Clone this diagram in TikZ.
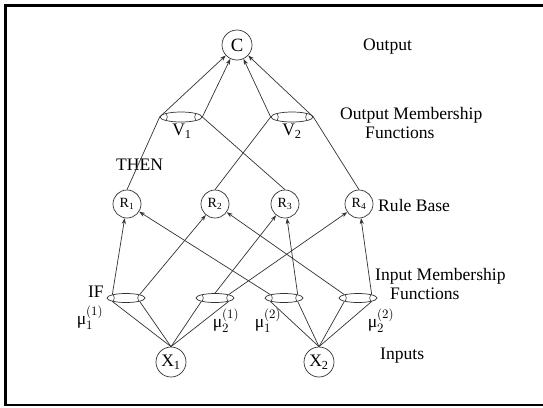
\documentclass[tikz,border=0pt]{standalone}
\usepackage{fontspec}
\setmainfont{Liberation Serif}
\usepackage{amsmath}
\usetikzlibrary{arrows.meta,positioning,calc,shapes.geometric}
\newcommand{\mfn}[2]{μ$_{#1}^{(#2)}$}

\begin{document}
\begin{tikzpicture}[
    x=0.03cm, y=-0.03cm,
    font=\fontsize{15}{17}\selectfont,
    unit/.style={draw=black!80, circle, minimum size=0.9cm, inner sep=0pt, line width=0.6pt},
    rulenode/.style={unit, minimum size=0.84cm, font=\fontsize{12}{14}\selectfont},
    mf/.style={draw=black!80, ellipse, minimum width=1.14cm, minimum height=0.27cm, inner sep=0pt, line width=0.6pt,
      path picture={
        \draw[black!80, line width=0.5pt] ($(path picture bounding box.west)+(0.11cm,0)$) circle[x radius=0.11cm, y radius=0.14cm];
        \draw[black!80, line width=0.5pt] ($(path picture bounding box.east)-(0.11cm,0)$) circle[x radius=0.11cm, y radius=0.14cm];}},
    outmf/.style={mf, minimum width=1.26cm, minimum height=0.3cm},
    lab/.style={align=left, inner sep=0pt},
    con/.style={draw=black!80, line width=0.6pt},
    arr/.style={con, -{Stealth[length=5pt, width=3.5pt]}}
]
  \useasboundingbox (0,0) rectangle (543,407);
  \draw[line width=2.5pt] (543,5.5) -- (5.5,5.5) -- (5.5,405) -- (543,405);

  % output side
  \node[unit, font=\fontsize{16}{18}\selectfont] (C) at (237,45) {C};
  \node[outmf] (V1) at (181,117) {};
  \node[outmf] (V2) at (292,117) {};
  \node (V1lab) at (182,131) {V\textsubscript{1}};
  \node (V2lab) at (292,131) {V\textsubscript{2}};

  % rules
  \node[rulenode] (R1) at (127,204) {R\textsubscript{1}};
  \node[rulenode] (R2) at (215,204) {R\textsubscript{2}};
  \node[rulenode] (R3) at (285,204) {R\textsubscript{3}};
  \node[rulenode] (R4) at (359,204) {R\textsubscript{4}};

  % input side
  \node[mf] (M11) at (126,298) {};
  \node[mf] (M21) at (215,298) {};
  \node[mf] (M12) at (284,298) {};
  \node[mf] (M22) at (358,298) {};
  \node (M11lab) at (90,318) {\mfn{1}{1}};
  \node (M21lab) at (226,321) {\mfn{2}{1}};
  \node (M12lab) at (268,321) {\mfn{1}{2}};
  \node (M22lab) at (381,321) {\mfn{2}{2}};
  \node[unit] (X1) at (171,362) {X\textsubscript{1}};
  \node[unit] (X2) at (319,362) {X\textsubscript{2}};

  % side labels
  \node[lab, anchor=west] (outlab) at (363,47) {Output};
  \node[lab, anchor=west] (omflab) at (340,123) {Output Membership\\\hspace*{0.75cm}Functions};
  \node[lab, anchor=west] (thenlab) at (116,165) {THEN};
  \node[lab, anchor=west] (rblab) at (378,205) {Rule Base};
  \node[lab, anchor=west] (imflab) at (375,284) {Input Membership\\\hspace*{0.45cm}Functions};
  \node[lab, anchor=east] (iflab) at (104,292) {IF};
  \node[lab, anchor=west] (inlab) at (380,356) {Inputs};

  % inputs to membership functions
  \foreach \x/\m in {X1/M11, X1/M21, X2/M12, X2/M22} {
    \draw[con] (\x.north) -- (\m.south west);
    \draw[con] (\x.north) -- (\m.south east);
  }

  % membership functions to rules
  \draw[arr] (M11.north west) -- (R1);
  \draw[arr] (M11.north east) -- (R2);
  \draw[arr] (M12.north west) -- (R1);
  \draw[arr] (M12.north east) -- (R3);
  \draw[arr] (M21.north) -- (R3);
  \draw[arr] (M21.north east) -- (R4);
  \draw[arr] (M22.north west) -- (R2);
  \draw[arr] (M22.north east) -- (R4);

  % rules to output
  \draw[con] (R1.north) -- (V1.west);
  \draw[con] (R3.north) -- (V1.east);
  \draw[con] (R2.north) -- (V2.west);
  \draw[con] (R4.north) -- (V2.east);
  \draw[arr] (V1.west) -- (C);
  \draw[arr] (V1.east) -- (C);
  \draw[arr] (V2.west) -- (C);
  \draw[arr] (V2.east) -- (C);
\end{tikzpicture}
\end{document}
